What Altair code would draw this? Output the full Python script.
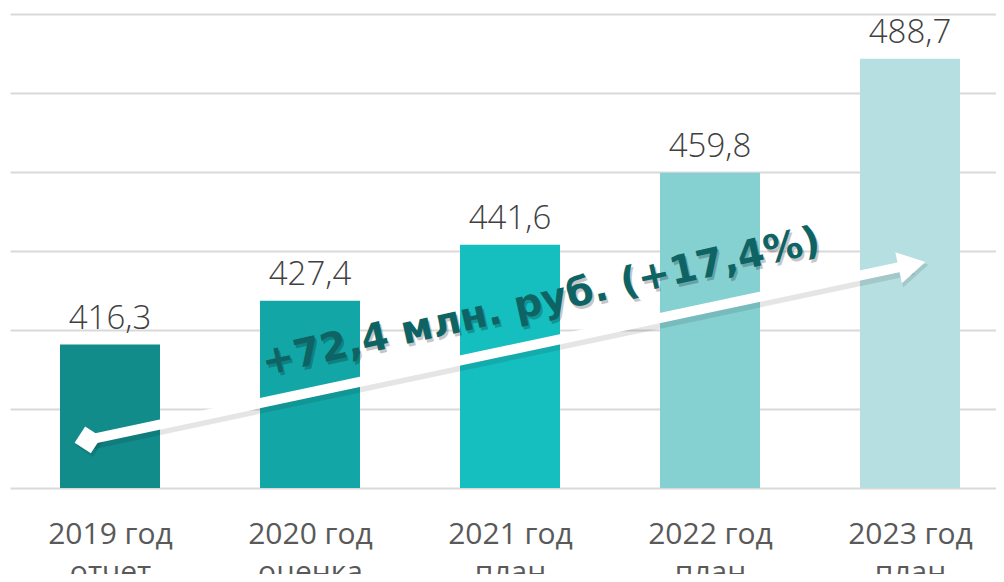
import json
import altair as alt
import pandas as pd

# ---- data ----
years = ["2019 год", "2020 год", "2021 год", "2022 год", "2023 год"]
stages = ["отчет", "оценка", "план", "план", "план"]
values = [416.3, 427.4, 441.6, 459.8, 488.7]
value_labels = ["416,3", "427,4", "441,6", "459,8", "488,7"]
bar_colors = ["#128b8b", "#13a6a6", "#16bfbf", "#85d1d2", "#b6dfe1"]
y_ticks = [380, 400, 420, 440, 460, 480, 500]

trend_text = "+72,4 млн. руб. (+17,4%)"
trend_start = (-0.11, 392.2)   # (category position, value)
trend_end = (4.0, 436.5)
trend_text_pos = (2.155, 427.1)

idx = list(range(len(years)))
cats = [f"{y}\n{s}" for y, s in zip(years, stages)]

bars_df = pd.DataFrame({"idx": idx, "v": values, "lbl": value_labels, "col": bar_colors})
arrow_df = pd.DataFrame({"idx": [trend_start[0]], "idx2": [trend_end[0]],
                         "v": [trend_start[1]], "v2": [trend_end[1]]})
start_df = pd.DataFrame({"idx": [trend_start[0]], "v": [trend_start[1]]})
end_df = pd.DataFrame({"idx": [trend_end[0]], "v": [trend_end[1]]})
text_df = pd.DataFrame({"idx": [trend_text_pos[0]], "v": [trend_text_pos[1]], "t": [trend_text]})

label_expr = "split(" + json.dumps(cats, ensure_ascii=False) + "[datum.value], '\\n')"

xscale = alt.Scale(domain=[-0.5, len(years) - 0.57], nice=False, zero=False, padding=0)
yscale = alt.Scale(domain=[y_ticks[0], y_ticks[-1]], nice=False, zero=False, padding=0)

X = alt.X("idx:Q", scale=xscale,
          axis=alt.Axis(title=None, labelAngle=0, ticks=False, domain=False, grid=False,
                        values=idx, labelExpr=label_expr, labelFlush=False, labelOverlap=False,
                        labelFontSize=30, labelColor="#595959", labelFont="Open Sans",
                        labelLineHeight=38, labelPadding=31))
Y = alt.Y("v:Q", scale=yscale,
          axis=alt.Axis(title=None, labels=False, ticks=False, domain=False,
                        values=y_ticks, grid=True, gridColor="#d9d9d9", gridWidth=2))

bars = alt.Chart(bars_df).mark_bar(size=100).encode(
    x=X, y=Y, y2=alt.datum(y_ticks[0]), color=alt.Color("col:N", scale=None)
)

vlabels = alt.Chart(bars_df).mark_text(
    baseline="alphabetic", dy=-16, fontSize=33, font="Open Sans", fontWeight=300, color="#404040"
).encode(x="idx:Q", y="v:Q", text="lbl:N")

arrow_shadow = alt.Chart(arrow_df).mark_rule(
    strokeWidth=14, color="#000000", opacity=0.10, xOffset=2, x2Offset=3, yOffset=3, y2Offset=3
).encode(x="idx:Q", x2="idx2:Q", y="v:Q", y2="v2:Q")

arrow = alt.Chart(arrow_df).mark_rule(strokeWidth=10, color="white").encode(
    x="idx:Q", x2="idx2:Q", y="v:Q", y2="v2:Q"
)

head_shadow = alt.Chart(end_df).mark_point(
    shape="triangle-right", size=1150, angle=348, filled=True, color="#000000",
    opacity=0.10, xOffset=4, yOffset=3
).encode(x="idx:Q", y="v:Q")

head = alt.Chart(end_df).mark_point(
    shape="triangle-right", size=1000, angle=348, filled=True, color="white", opacity=1, xOffset=2
).encode(x="idx:Q", y="v:Q")

diamond_shadow = alt.Chart(start_df).mark_point(
    shape="diamond", size=850, angle=348, filled=True, color="#000000",
    opacity=0.10, xOffset=2, yOffset=3
).encode(x="idx:Q", y="v:Q")

diamond = alt.Chart(start_df).mark_point(
    shape="diamond", size=750, angle=348, filled=True, color="white", opacity=1
).encode(x="idx:Q", y="v:Q")

text_shadow = alt.Chart(text_df).mark_text(
    angle=347.5, fontSize=39, fontWeight="bold", font="DejaVu Sans", color="#000000",
    opacity=0.22, xOffset=2, yOffset=3, align="center", baseline="middle"
).encode(x="idx:Q", y="v:Q", text="t:N")

text = alt.Chart(text_df).mark_text(
    angle=347.5, fontSize=39, fontWeight="bold", font="DejaVu Sans", color="#0e6464",
    align="center", baseline="middle"
).encode(x="idx:Q", y="v:Q", text="t:N")

chart = alt.layer(
    bars, vlabels, arrow_shadow, diamond_shadow, head_shadow, arrow, diamond, head, text_shadow, text
).properties(
    width=986, height=474,
    autosize=alt.AutoSizeParams(type="none"),
    padding={"left": 2, "top": 6, "right": 0, "bottom": 86},
    background="white",
).configure_view(stroke=None)

chart.save("out.html", embed_options={"renderer": "svg", "actions": False})
